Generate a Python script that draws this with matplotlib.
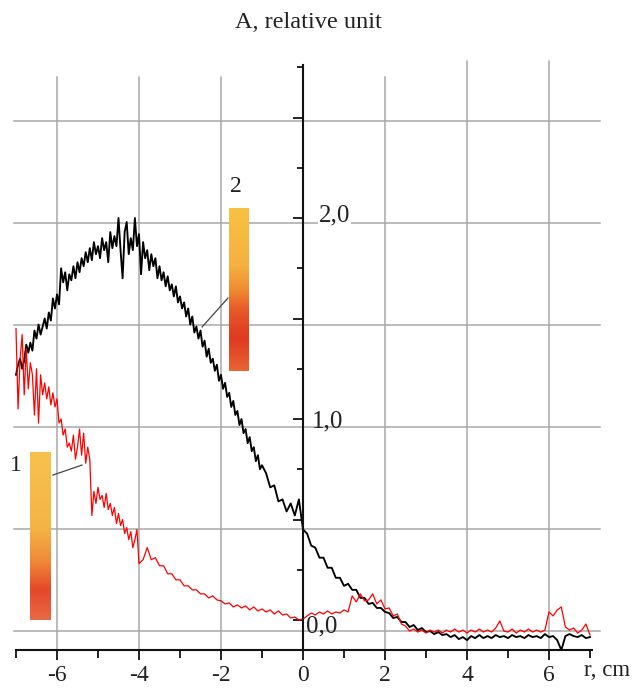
import numpy as np
import matplotlib
matplotlib.use("Agg")
import matplotlib.pyplot as plt
from matplotlib.colors import LinearSegmentedColormap

# ---------------- data ----------------
# sample positions (cm): finer sampling where the traces are noisiest
r_black = [round(-7.0 + 0.05 * i, 2) for i in range(121)] + \
          [round(-0.9 + 0.1 * i, 1) for i in range(80)]
r_red = [round(-7.0 + 0.05 * i, 2) for i in range(61)] + \
        [round(-3.9 + 0.1 * i, 1) for i in range(110)]

curve2_black = [
    # -7.00 .. -1.00 (step 0.05)
    1.22, 1.27, 1.30, 1.25, 1.29, 1.37, 1.33, 1.38, 1.34, 1.44,
    1.40, 1.47, 1.42, 1.46, 1.50, 1.45, 1.53, 1.49, 1.60, 1.55,
    1.62, 1.57, 1.75, 1.68, 1.73, 1.64, 1.72, 1.69, 1.76, 1.70,
    1.78, 1.73, 1.80, 1.76, 1.83, 1.78, 1.85, 1.79, 1.88, 1.82,
    1.86, 1.80, 1.90, 1.84, 1.88, 1.78, 1.93, 1.85, 1.91, 1.86,
    2.00, 1.84, 1.70, 1.93, 1.98, 1.82, 1.90, 1.84, 2.00, 1.86,
    1.92, 1.72, 1.88, 1.80, 1.84, 1.74, 1.82, 1.76, 1.80, 1.70,
    1.76, 1.69, 1.73, 1.66, 1.71, 1.64, 1.67, 1.61, 1.66, 1.58,
    1.61, 1.55, 1.58, 1.51, 1.55, 1.47, 1.51, 1.43, 1.46, 1.40,
    1.44, 1.36, 1.39, 1.31, 1.35, 1.28, 1.30, 1.24, 1.27, 1.19,
    1.22, 1.15, 1.18, 1.11, 1.13, 1.06, 1.09, 1.02, 1.04, 0.97,
    1.00, 0.93, 0.95, 0.88, 0.91, 0.84, 0.86, 0.79, 0.82, 0.75,
    0.77,
    # -0.9 .. 7.0 (step 0.1)
    0.73, 0.66, 0.67, 0.59, 0.60, 0.54, 0.58, 0.52, 0.60,
    0.45, 0.43, 0.37, 0.36, 0.31, 0.31, 0.26, 0.26, 0.21, 0.21,
    0.17, 0.18, 0.15, 0.15, 0.11, 0.11, 0.08, 0.085, 0.06, 0.06,
    0.04, 0.035, 0.01, 0.015, -0.01, -0.01, -0.035, -0.025, -0.05, -0.04,
    -0.06, -0.055, -0.07, -0.06, -0.075, -0.07, -0.085, -0.075, -0.095, -0.085,
    -0.10, -0.08, -0.09, -0.075, -0.09, -0.08, -0.09, -0.075, -0.085, -0.08,
    -0.09, -0.075, -0.085, -0.08, -0.09, -0.075, -0.085, -0.08, -0.09, -0.07,
    -0.085, -0.08, -0.10, -0.15, -0.08, -0.07, -0.08, -0.085, -0.075, -0.09,
    -0.085,
]

curve1_red = [
    # -7.00 .. -4.00 (step 0.05)
    1.45, 1.05, 1.30, 1.42, 1.12, 1.35, 1.15, 1.28, 1.22, 1.02,
    1.25, 0.98, 1.22, 1.12, 1.18, 1.10, 1.16, 1.07, 1.13, 1.06,
    1.10, 0.98, 1.00, 0.92, 0.95, 0.86, 0.88, 0.84, 0.92, 0.80,
    0.86, 0.95, 0.82, 0.93, 0.78, 0.86, 0.80, 0.52, 0.64, 0.58,
    0.66, 0.60, 0.62, 0.56, 0.63, 0.55, 0.58, 0.52, 0.56, 0.48,
    0.53, 0.47, 0.50, 0.43, 0.46, 0.40, 0.44, 0.36, 0.40, 0.45,
    0.28,
    # -3.9 .. 7.0 (step 0.1)
    0.30, 0.36, 0.30, 0.31, 0.27, 0.27, 0.23, 0.23, 0.20,
    0.20, 0.17, 0.17, 0.15, 0.15, 0.13, 0.13, 0.11, 0.12, 0.10,
    0.095, 0.08, 0.085, 0.065, 0.075, 0.06, 0.07, 0.05, 0.065, 0.045,
    0.055, 0.04, 0.05, 0.03, 0.045, 0.025, 0.03, 0.01, 0.015, 0.0,
    0.005, 0.02, 0.035, 0.025, 0.04, 0.03, 0.045, 0.03, 0.04, 0.035,
    0.05, 0.04, 0.12, 0.09, 0.13, 0.095, 0.10, 0.13, 0.08, 0.10,
    0.055, 0.06, 0.02, 0.03, -0.02, -0.03, -0.055, -0.045, -0.06, -0.05,
    -0.065, -0.05, -0.06, -0.05, -0.065, -0.05, -0.06, -0.045, -0.06, -0.05,
    -0.065, -0.05, -0.06, -0.045, -0.06, -0.05, -0.06, -0.04, -0.005, -0.055,
    -0.06, -0.045, -0.065, -0.05, -0.06, -0.045, -0.06, -0.05, -0.06, -0.05,
    0.04, 0.02, 0.05, 0.065, -0.035, -0.05, -0.04, -0.065, -0.05, -0.02,
    -0.075,
]

x_major = [-6, -4, -2, 0, 2, 4, 6]
x_labels = ["-6", "-4", "-2", "0", "2", "4", "6"]
y_label_vals = [0.0, 1.0, 2.0]
y_labels = ["0,0", "1,0", "2,0"]
title = "A, relative unit"
xlabel = "r, cm"
bar_labels = ["1", "2"]

# ---------------- figure ----------------
SERIF = ["Liberation Serif", "DejaVu Serif"]
TXT = "#222222"
GRID = "#a8a8a8"

fig = plt.figure(figsize=(6.34, 6.94), dpi=100)
ax = fig.add_axes([0, 0, 1, 1])
XLIM = (-303 / 41, 331 / 41)
YLIM = (-74 / 201, 620 / 201)
ax.set_facecolor("white")

x_axis_y = -0.149
y_top = 2.76

# grid (offset slightly below the ticks, as in the source picture)
for k in range(6):
    gy = -0.055 + 0.5075 * k
    ax.plot([-7.05, 7.25], [gy, gy], color=GRID, lw=1.1, zorder=1)
for gx in x_major:
    if gx == 0:
        continue
    top = 2.78 if gx >= 4 else 2.70
    ax.plot([gx, gx], [x_axis_y, top], color=GRID, lw=1.1, zorder=1)

# spines
for s in ["top", "right"]:
    ax.spines[s].set_visible(False)
ax.spines["left"].set_position(("data", 0))
ax.spines["bottom"].set_position(("data", x_axis_y))
ax.spines["left"].set_bounds(x_axis_y, y_top)
ax.spines["bottom"].set_bounds(-7.0, 7.05)
for s in ["left", "bottom"]:
    ax.spines[s].set_linewidth(1.5)
    ax.spines[s].set_color("#111111")
    ax.spines[s].set_zorder(5)

ax.set_xticks(x_major)
ax.set_xticklabels(x_labels, fontsize=17, family=SERIF, color=TXT)
ax.set_xticks([-7, -5, -3, -1, 1, 3, 5, 7], minor=True)
ax.tick_params(axis="x", which="major", direction="out", length=7, width=1.3,
               pad=4, color="#111111")
ax.tick_params(axis="x", which="minor", direction="out", length=6, width=1.3,
               color="#111111")

ax.set_yticks([0, 0.5, 1.0, 1.5, 2.0, 2.5])
ax.set_yticks([0.25, 0.75, 1.25, 1.75, 2.25, 2.75], minor=True)
ax.tick_params(axis="y", which="major", direction="out", length=7.5, width=1.3,
               labelleft=False, color="#111111")
ax.tick_params(axis="y", which="minor", direction="out", length=4, width=1.3,
               color="#111111")

# y labels on the right of the axis
label_dx = [0.08, 0.22, 0.38]
label_dy = [-0.03, -0.01, 0.015]
for v, lab, dx, dy in zip(y_label_vals, y_labels, label_dx, label_dy):
    ax.text(dx, v + dy, lab, fontsize=18, family=SERIF,
            color=TXT, ha="left", va="center", zorder=6,
            bbox=dict(facecolor="white", edgecolor="none", pad=0.5) if v == 2.0 else None)

# curves
ax.plot(r_black, curve2_black, color="black", lw=1.35, zorder=3)
ax.plot(r_red, curve1_red, color="#ff0000", lw=0.9, zorder=4)

# colour bars
cmap1 = LinearSegmentedColormap.from_list(
    "b1", [(0.0, "#f7c24c"), (0.45, "#f4b445"), (0.65, "#ee8a38"),
           (0.82, "#e5482a"), (1.0, "#e86a45")])
cmap2 = LinearSegmentedColormap.from_list(
    "b2", [(0.0, "#f8c242"), (0.35, "#f6b040"), (0.5, "#f08c30"),
           (0.62, "#e85a28"), (0.8, "#e03a22"), (1.0, "#e96532")])
grad = np.linspace(0, 1, 256).reshape(-1, 1)
ax.imshow(grad, cmap=cmap1, aspect="auto", extent=(-6.66, -6.15, 0.0, 0.831),
          origin="upper", zorder=2)
ax.imshow(grad, cmap=cmap2, aspect="auto", extent=(-1.80, -1.32, 1.239, 2.045),
          origin="upper", zorder=2)
ax.set_xlim(*XLIM)
ax.set_ylim(*YLIM)

# leader lines
ax.plot([-6.10, -5.39], [0.721, 0.771], color="#444444", lw=0.9, zorder=4)
ax.plot([-1.83, -2.46], [1.602, 1.458], color="#444444", lw=0.9, zorder=4)
ax.text(-7.0, 0.771, bar_labels[0], fontsize=17, family=SERIF, color=TXT,
        ha="center", va="center")
ax.text(-1.63, 2.159, bar_labels[1], fontsize=17, family=SERIF, color=TXT,
        ha="center", va="center")

# titles
fig.text(308 / 634, 1 - 22 / 694, title, fontsize=17.5, family=SERIF, color=TXT,
         ha="center", va="center")
fig.text(607 / 634, 1 - 670 / 694, xlabel, fontsize=16.5, family=SERIF, color=TXT,
         ha="center", va="center")

fig.savefig("out.png", dpi=100, facecolor="white")
